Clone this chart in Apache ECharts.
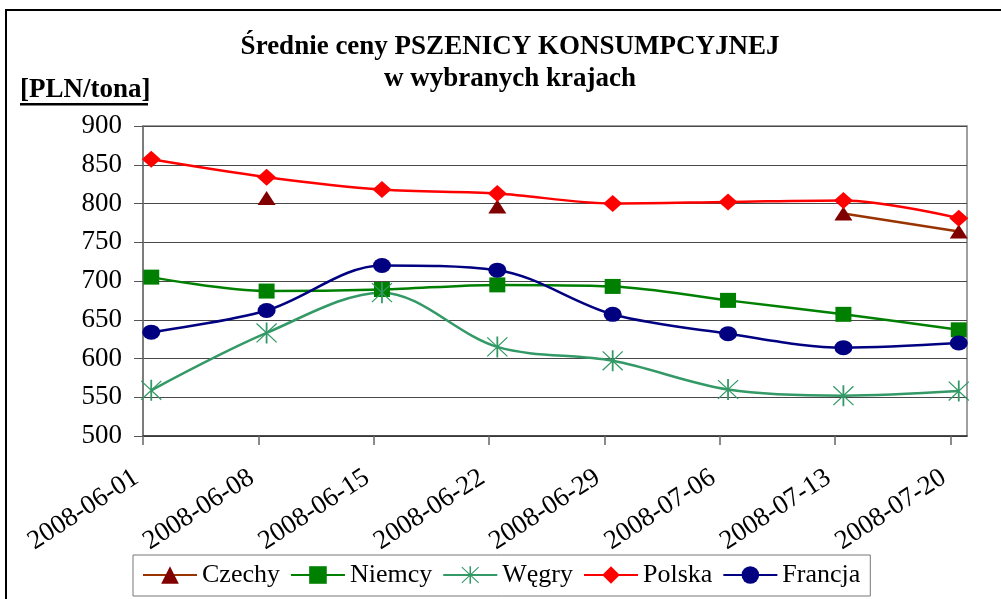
<!DOCTYPE html>
<html>
<head>
<meta charset="utf-8">
<script src="https://cdn.jsdelivr.net/npm/echarts@6/dist/echarts.min.js"></script>
<style>
html,body{margin:0;padding:0;background:#fff;}
#chart{width:1001px;height:599px;}
</style>
</head>
<body>
<div id="chart"></div>
<script>
// ---- data ----
const categories = ['2008-06-01','2008-06-08','2008-06-15','2008-06-22','2008-06-29','2008-07-06','2008-07-13','2008-07-20'];
const xAxisStart = '2008-06-01';
const xAxisEnd = '2008-07-21';
const xTickLabels = ['2008-06-01','2008-06-08','2008-06-15','2008-06-22','2008-06-29','2008-07-06','2008-07-13','2008-07-20'];
const seriesNames = ['Czechy','Niemcy','Węgry','Polska','Francja'];
const czechy  = [null, 807, null, 796, null, null, 787, 764];
const niemcy  = [705, 687, 689, 695, 693, 675, 657, 637];
const wegry   = [559, 633, 685, 615, 597, 560, 552, 558];
const polska  = [857, 834, 818, 813, 800, 802, 804, 781];
const francja = [634, 662, 720, 714, 657, 632, 614, 620];
const yMin = 500, yMax = 900, yStep = 50;
const titleText = 'Średnie ceny PSZENICY KONSUMPCYJNEJ\nw wybranych krajach';
const unitText = '[PLN/tona]';

// ---- helpers ----
const DAY = 86400000;
const t0 = Date.parse(xAxisStart + 'T00:00:00Z');
const toDay = s => (Date.parse(s + 'T00:00:00Z') - t0) / DAY;
const fromDay = d => new Date(t0 + Math.round(d) * DAY).toISOString().slice(0, 10);
const tickDays = xTickLabels.map(toDay);
// Excel date axis places each point in the middle of its day
const pts = arr => arr.map((v, i) => [toDay(categories[i]) + 0.5, v]);

const FONT = '"Liberation Serif", "Times New Roman", serif';
const starPath = 'path://M9.2 0L10.8 0L10.8 20L9.2 20Z M0.6 1.4L1.4 0.6L19.4 18.6L18.6 19.4Z M18.6 0.6L19.4 1.4L1.4 19.4L0.6 18.6Z';

const styles = [
  {line:'#993300', mark:'#800000', symbol:'triangle', size:[18,14]},
  {line:'#008000', mark:'#008000', symbol:'rect', size:[16,15]},
  {line:'#339966', mark:'#339966', symbol:starPath, size:[21,21]},
  {line:'#FF0000', mark:'#FF0000', symbol:'diamond', size:[19,17]},
  {line:'#000080', mark:'#000080', symbol:'circle', size:[18,15]}
];
const values = [czechy, niemcy, wegry, polska, francja];

const chart = echarts.init(document.getElementById('chart'), null, {renderer:'canvas'});
chart.setOption({
  animation: false,
  backgroundColor: '#fff',
  title: {
    text: titleText,
    left: 510,
    top: 31,
    padding: 0,
    textAlign: 'center',
    textStyle: {fontFamily: FONT, fontWeight: 'bold', fontSize: 27, lineHeight: 32, color: '#000'}
  },
  graphic: [
    {type:'rect', z:-10, silent:true, shape:{x:6, y:10, width:1100, height:700}, style:{fill:'none', stroke:'#000', lineWidth:2}},
    {type:'text', left:20, top:77, silent:true, style:{text:unitText, font:'bold 27px ' + FONT, fill:'#000'}},
    {type:'rect', silent:true, shape:{x:20, y:103, width:128, height:2.5}, style:{fill:'#000'}}
  ],
  legend: {
    data: seriesNames,
    left: 133,
    top: 555,
    orient: 'horizontal',
    itemWidth: 54,
    itemHeight: 22,
    itemGap: 10,
    padding: [7, 10, 8, 9],
    borderColor: '#777',
    borderWidth: 1,
    selectedMode: false,
    textStyle: {fontFamily: FONT, fontSize: 26, color: '#000'}
  },
  grid: {left: 143, right: 34, top: 126, bottom: 163, show: true, borderColor: '#808080', borderWidth: 1.5, containLabel: false, outerBoundsMode: 'none'},
  xAxis: {
    type: 'value',
    min: toDay(xAxisStart),
    max: toDay(xAxisEnd),
    interval: 7,
    splitLine: {show: false},
    axisLine: {show: true, onZero: false, lineStyle: {color: '#333', width: 1.5}},
    axisTick: {show: true, length: 9, customValues: tickDays, lineStyle: {color: '#666', width: 1.5}},
    axisLabel: {
      customValues: tickDays,
      rotate: 33,
      margin: 35,
      padding: [0, 8, 0, 0],
      fontFamily: FONT, fontSize: 27, color: '#000',
      formatter: v => (tickDays.indexOf(v) >= 0 ? fromDay(v) : '')
    }
  },
  yAxis: {
    type: 'value',
    min: yMin, max: yMax, interval: yStep,
    axisLine: {show: true, lineStyle: {color: '#707070', width: 1.5}},
    axisTick: {show: true, length: 9, lineStyle: {color: '#555', width: 1}},
    axisLabel: {margin: 21, fontFamily: FONT, fontSize: 27, color: '#000'},
    splitLine: {show: true, lineStyle: {color: '#484848', width: 1}}
  },
  series: seriesNames.map((name, i) => ({
    name: name,
    type: 'line',
    data: pts(values[i]),
    smooth: 0.33,
    connectNulls: false,
    symbol: styles[i].symbol,
    symbolSize: styles[i].size,
    symbolKeepAspect: false,
    showSymbol: true,
    showAllSymbol: true,
    lineStyle: {color: styles[i].line, width: 2.5},
    itemStyle: {color: styles[i].mark, borderWidth: 0},
    emphasis: {disabled: true},
    silent: true
  }))
});
</script>
</body>
</html>
